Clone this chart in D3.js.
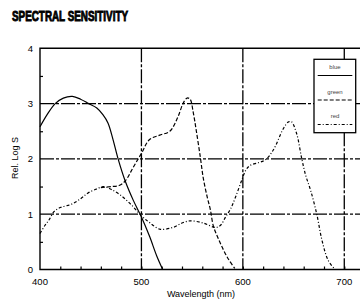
<!DOCTYPE html>
<html>
<head>
<meta charset="utf-8">
<script src="https://cdn.jsdelivr.net/npm/d3@7"></script>
<style>
  body { margin: 0; background: #fff; }
  svg { display: block; }
  text { font-family: "Liberation Sans", Arial, sans-serif; fill: #000; }
</style>
</head>
<body>
<svg id="chart" width="360" height="301"></svg>
<script>
// values
const blueNm = [400, 407, 415, 423, 432, 440, 448, 456, 462, 467, 472, 477, 484, 492, 500, 508, 515, 521];
const blueS  = [2.58, 2.8, 3.0, 3.1, 3.13, 3.08, 3.0, 2.92, 2.8, 2.65, 2.35, 2.0, 1.6, 1.25, 0.95, 0.6, 0.25, 0];

const greenNm = [460, 470, 478, 484, 492, 500, 508, 518, 528, 536, 541, 545, 548, 551, 554, 558, 561, 565, 568, 571, 576, 581, 586, 592];
const greenS  = [1.48, 1.5, 1.52, 1.6, 1.85, 2.1, 2.35, 2.43, 2.5, 2.76, 3.0, 3.1, 3.08, 2.85, 2.52, 2.04, 1.65, 1.3, 1.08, 0.78, 0.55, 0.35, 0.18, 0.02];

const redNm = [400, 405, 409, 414, 420, 431, 440, 447, 455, 463, 470, 479, 490, 500, 508, 518, 531, 540, 548, 561, 573, 578, 583, 588, 593, 599, 603, 607, 615, 622, 630, 640, 645, 648, 653, 658, 662, 667, 673, 678, 684, 690];
const redS  = [0.65, 0.8, 0.9, 1.05, 1.12, 1.18, 1.28, 1.38, 1.45, 1.5, 1.45, 1.35, 1.17, 0.97, 0.85, 0.73, 0.76, 0.84, 0.88, 0.84, 0.76, 0.8, 0.95, 1.1, 1.32, 1.62, 1.8, 1.88, 1.93, 1.98, 2.16, 2.55, 2.67, 2.67, 2.46, 2.01, 1.7, 1.42, 0.99, 0.53, 0.17, 0.02];

const xTickLabels = [400, 500, 600, 700];
const yTickLabels = [0, 1, 2, 3, 4];
const legendNames = ["blue", "green", "red"];

const svg = d3.select("#chart");

const x = d3.scaleLinear().domain([400, 715.5]).range([40, 360]);
const y = d3.scaleLinear().domain([0, 4]).range([269.5, 48.3]);

const gridDash = "14,2,3,2";
const styles = {
  blue:  { dash: null },
  green: { dash: "4,2" },
  red:   { dash: "3,2,1,2" }
};

// title (heavy, squeezed)
svg.append("text")
  .attr("x", 12)
  .attr("y", 20.5)
  .attr("textLength", 116)
  .attr("lengthAdjust", "spacingAndGlyphs")
  .style("font-size", "14px")
  .style("font-weight", "900")
  .style("stroke", "#000")
  .style("stroke-width", 0.9)
  .text("SPECTRAL SENSITIVITY");

// grid lines
svg.selectAll("line.vgrid")
  .data([500, 600, 700])
  .enter().append("line")
  .attr("class", "vgrid")
  .attr("x1", d => x(d)).attr("x2", d => x(d))
  .attr("y1", y(4)).attr("y2", y(0))
  .attr("stroke", "#000")
  .attr("stroke-width", 1.3)
  .attr("stroke-dasharray", gridDash);

svg.selectAll("line.hgrid")
  .data([1, 2, 3])
  .enter().append("line")
  .attr("class", "hgrid")
  .attr("x1", x(400)).attr("x2", 360)
  .attr("y1", d => y(d)).attr("y2", d => y(d))
  .attr("stroke", "#000")
  .attr("stroke-width", 1.3)
  .attr("stroke-dasharray", gridDash);

// frame: left, bottom, top
svg.append("path")
  .attr("d", `M360,${y(4)}H${x(400)}V${y(0)}H360`)
  .attr("fill", "none")
  .attr("stroke", "#000")
  .attr("stroke-width", 1.4);

// axes with inner minor ticks
const xAxis = d3.axisTop(x)
  .tickValues(d3.range(420, 716, 20))
  .tickSize(3)
  .tickFormat("");
svg.append("g")
  .attr("transform", `translate(0,${y(0)})`)
  .call(xAxis)
  .call(g => g.select(".domain").remove())
  .call(g => g.selectAll("line").attr("stroke-width", 1.2));

const yAxis = d3.axisRight(y)
  .tickValues([0.5, 1.5, 2.5, 3.5])
  .tickSize(3)
  .tickFormat("");
svg.append("g")
  .attr("transform", `translate(${x(400)},0)`)
  .call(yAxis)
  .call(g => g.select(".domain").remove())
  .call(g => g.selectAll("line").attr("stroke-width", 1.2));

// tick labels
svg.selectAll("text.xl")
  .data(xTickLabels)
  .enter().append("text")
  .attr("class", "xl")
  .attr("x", d => x(d))
  .attr("y", 285)
  .attr("text-anchor", "middle")
  .style("font-size", "9.5px")
  .text(d => d);

svg.selectAll("text.yl")
  .data(yTickLabels)
  .enter().append("text")
  .attr("class", "yl")
  .attr("x", 33)
  .attr("y", d => y(d) + 3.5)
  .attr("text-anchor", "end")
  .style("font-size", "9.5px")
  .text(d => d);

svg.append("text")
  .attr("x", 201)
  .attr("y", 297)
  .attr("text-anchor", "middle")
  .style("font-size", "9px")
  .text("Wavelength (nm)");

svg.append("text")
  .attr("transform", "translate(18,158) rotate(-90)")
  .attr("text-anchor", "middle")
  .style("font-size", "9px")
  .text("Rel. Log S");

// curves
const line = d3.line()
  .x(d => x(d[0]))
  .y(d => y(d[1]))
  .curve(d3.curveCatmullRom.alpha(0.5));

const series = [
  { name: "blue",  data: d3.zip(blueNm, blueS) },
  { name: "green", data: d3.zip(greenNm, greenS) },
  { name: "red",   data: d3.zip(redNm, redS) }
];

svg.selectAll("path.curve")
  .data(series)
  .enter().append("path")
  .attr("class", "curve")
  .attr("d", d => line(d.data))
  .attr("fill", "none")
  .attr("stroke", "#000")
  .attr("stroke-width", 1.2)
  .attr("stroke-dasharray", d => styles[d.name].dash);

// legend
const legend = svg.append("g");
legend.append("rect")
  .attr("x", 314).attr("y", 59.3)
  .attr("width", 41.7).attr("height", 73.4)
  .attr("fill", "#fff")
  .attr("stroke", "#000")
  .attr("stroke-width", 1.3);

const item = legend.selectAll("g.item")
  .data(legendNames)
  .enter().append("g")
  .attr("class", "item")
  .attr("transform", (d, i) => `translate(0,${i * 24.5})`);

item.append("text")
  .attr("x", 335)
  .attr("y", 69)
  .attr("text-anchor", "middle")
  .style("font-size", "6px")
  .style("fill", "#444")
  .text(d => d);

item.append("line")
  .attr("x1", 317.7).attr("x2", 352.3)
  .attr("y1", 75.5).attr("y2", 75.5)
  .attr("stroke", "#000")
  .attr("stroke-width", 1.2)
  .attr("stroke-dasharray", d => styles[d].dash);
</script>
</body>
</html>
